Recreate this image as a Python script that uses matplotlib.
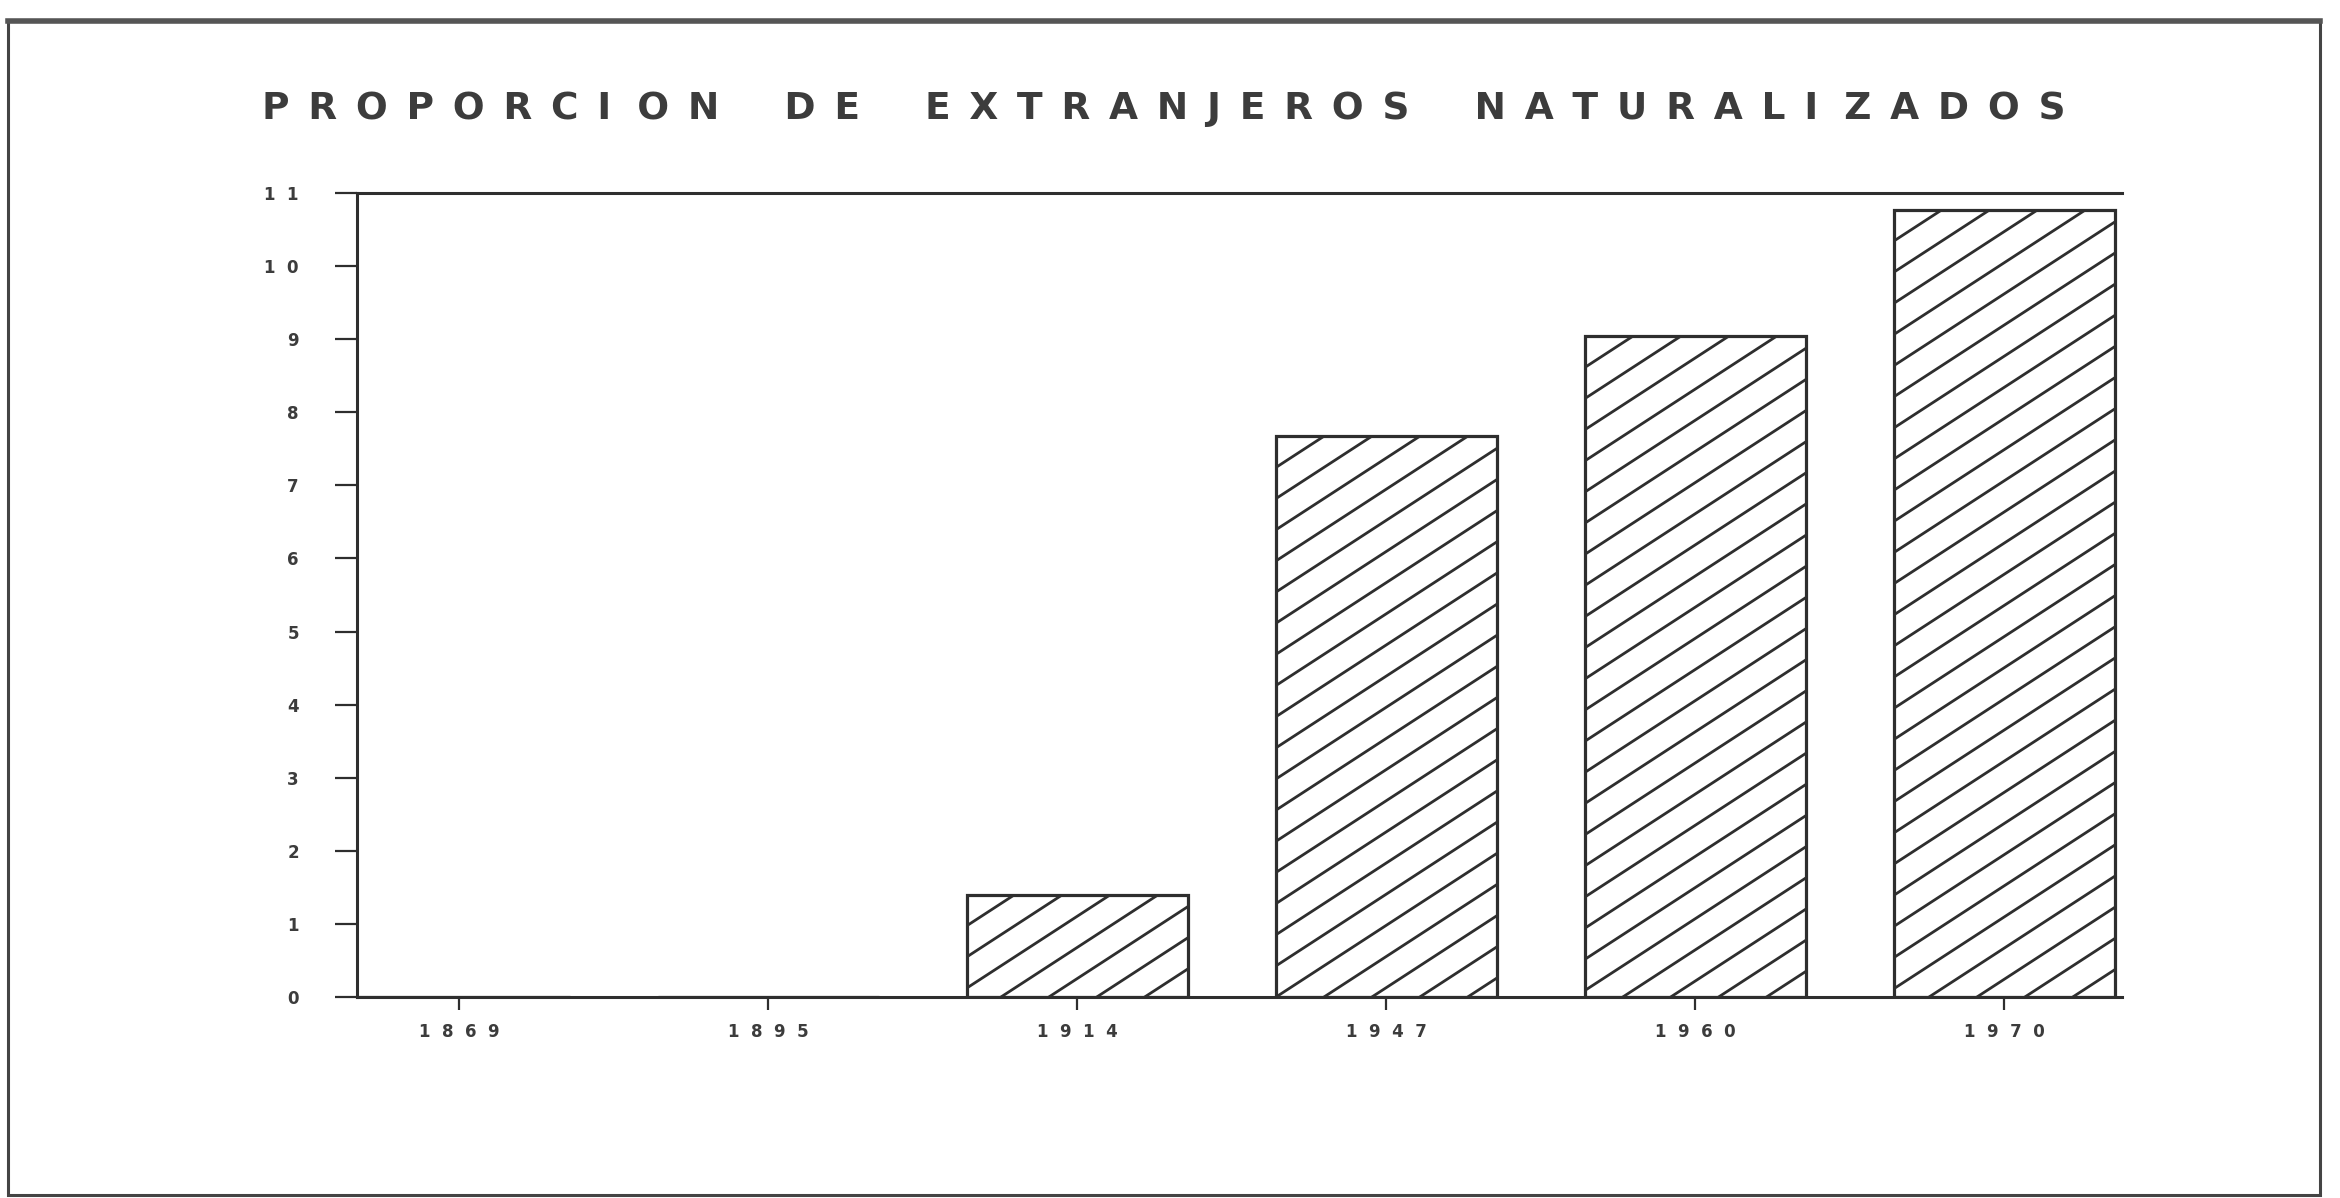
import numpy as np
import matplotlib
matplotlib.use("Agg")
import matplotlib.pyplot as plt
from matplotlib.patches import Rectangle
from matplotlib.lines import Line2D

# datos
anios = ["1869", "1895", "1914", "1947", "1960", "1970"]
proporcion = [0.0, 0.0, 1.40, 7.67, 9.04, 10.77]
y_ticks = list(range(0, 12))
titulo = ["PROPORCI ON", "DE", "EXTRANJEROS", "NATURALI ZADOS"]

ink = "#2e2e2e"
txt = "#3c3c3c"
plt.rcParams['font.family'] = ['DejaVu Sans']

def espaciar(s, sep=" "):
    return sep.join(s)

fig = plt.figure(figsize=(23.4, 11.98), dpi=100)
ax = fig.add_axes([0.1526, 0.1678, 0.9068 - 0.1526, 0.8389 - 0.1678])

x = np.arange(len(anios))
barras = ax.bar(x, proporcion, width=0.715, color="white", edgecolor=ink,
                linewidth=2.3, zorder=2)

# rayado oblicuo (mas tendido que el hatch de matplotlib)
pendiente = 2.75
paso = 0.155
for b, h in zip(barras, proporcion):
    if h <= 0:
        continue
    x0 = b.get_x()
    x1 = x0 + b.get_width()
    for c in np.arange(x0 - h / pendiente - paso, x1 + paso, paso):
        ln = Line2D([c, c + (h + 1) / pendiente], [0, h + 1], color=ink,
                    linewidth=2.0, zorder=3)
        ax.add_line(ln)
        ln.set_clip_path(b)

ax.set_xlim(-0.33, 5.38)
ax.set_ylim(0, 11)
ax.set_xticks(x)
ax.set_xticklabels([espaciar(a, "  ") for a in anios], fontsize=12,
                   fontweight="bold")
ax.set_yticks(y_ticks)
ax.set_yticklabels([espaciar(str(t), "  ") for t in y_ticks], fontsize=12,
                   fontweight="bold")
ax.tick_params(axis="y", direction="out", length=16, width=1.6, pad=26,
               color=ink, labelcolor=txt)
ax.tick_params(axis="x", direction="out", length=9, width=1.6, pad=10,
               color=ink, labelcolor=txt)

ax.spines["right"].set_visible(False)
for s in ["left", "top", "bottom"]:
    ax.spines[s].set_color(ink)
    ax.spines[s].set_linewidth(2.2)

grupos = ["  ".join(espaciar(p, "\u2002") for p in g.split()) for g in titulo]
fig.text(0.4974, 1 - 109 / 1198, "     ".join(grupos), ha="center", va="center",
         fontsize=27, fontweight="bold", color=txt)

# marco exterior
fig.add_artist(Rectangle((8 / 2340, 3 / 1198), (2320 - 8) / 2340,
                         (1198 - 21 - 3) / 1198, transform=fig.transFigure,
                         fill=False, edgecolor="#444444", linewidth=2.2))
fig.add_artist(Line2D([8 / 2340, 2320 / 2340], [1 - 21 / 1198, 1 - 21 / 1198],
                      transform=fig.transFigure, color="#555555", linewidth=4))

fig.savefig("out.png", dpi=100)
